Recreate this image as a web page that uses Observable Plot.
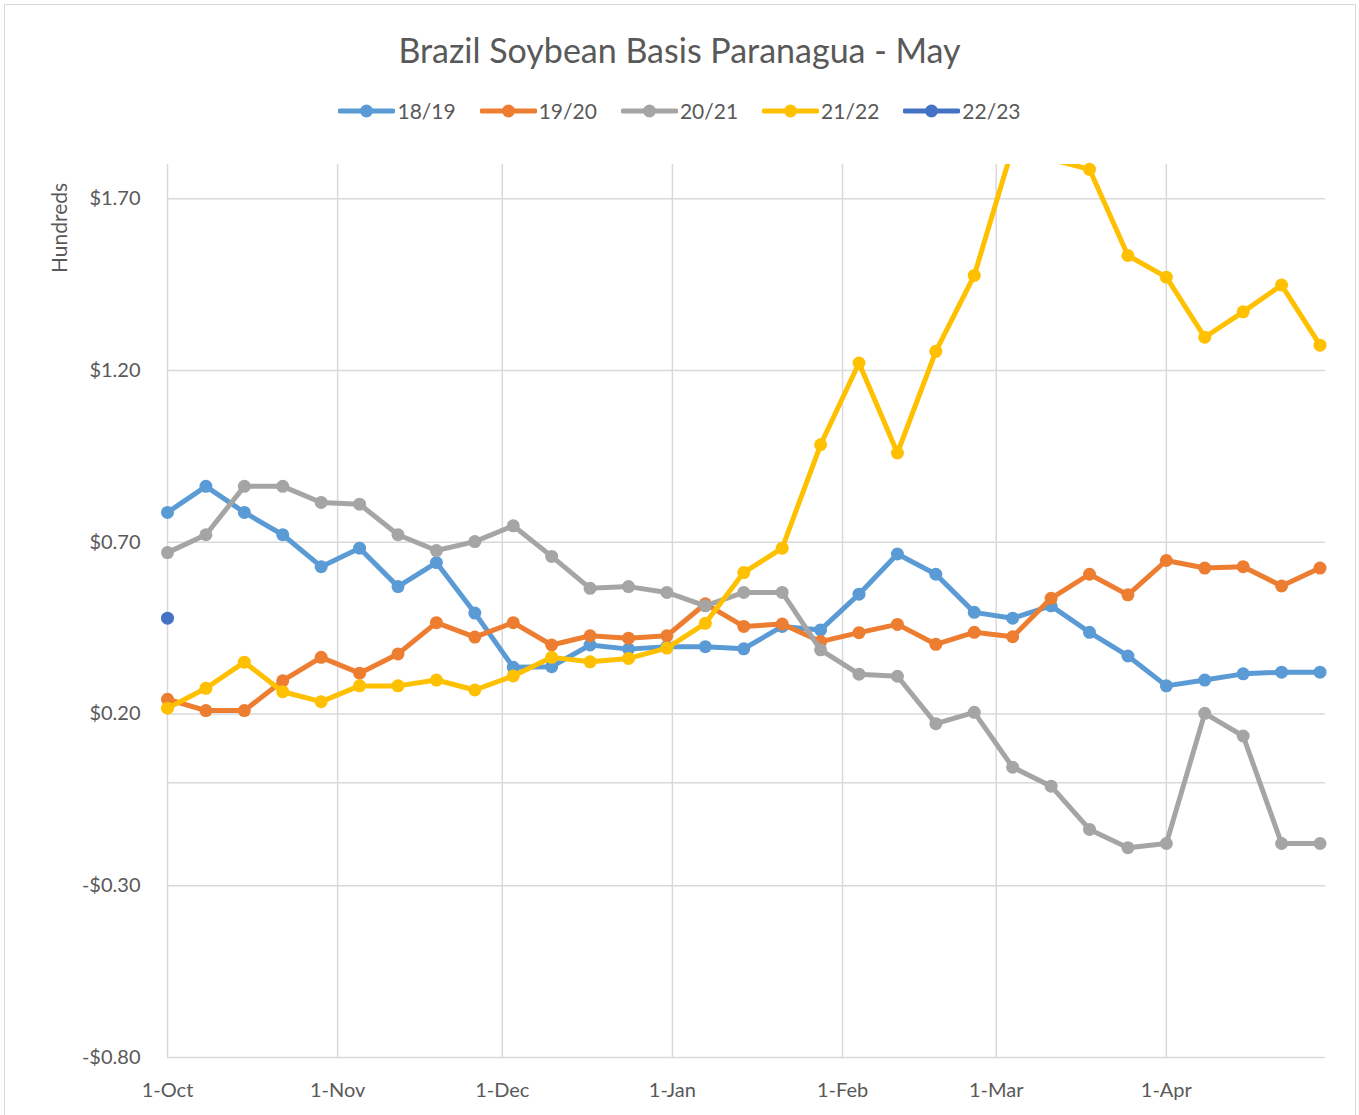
<!DOCTYPE html>
<html>
<head>
<meta charset="utf-8">
<script src="https://cdn.jsdelivr.net/npm/d3@7"></script>
<script src="https://cdn.jsdelivr.net/npm/@observablehq/plot@0.6"></script>
<style>
  body { margin: 0; background: #fff; font-family: Lato, "Open Sans", sans-serif; }
  #chart { position: relative; width: 1359px; height: 1115px; overflow: hidden; background: #fff; }
  #frame { position: absolute; left: 4px; top: 4px; width: 1352px; height: 1130px; border: 1px solid #D9D9D9; box-sizing: border-box; pointer-events: none; z-index: 3; }
  #title { position: absolute; left: 0; top: 28px; width: 1359px; text-align: center; font-size: 34px; color: #595959; line-height: 44px; }
  #legend { position: absolute; left: 0; top: 96px; width: 1359px; display: flex; justify-content: center; gap: 24px; font-size: 21px; color: #595959; line-height: 30px; }
  .item { display: flex; align-items: center; gap: 2px; }
  #ylab { position: absolute; left: 58px; top: 228px; transform: translate(-50%, -50%) rotate(-90deg); font-size: 21px; color: #595959; white-space: nowrap; z-index: 2; }
  #plot { position: absolute; left: 0; top: 140px; z-index: 1; }
</style>
</head>
<body>
<div id="chart">
  <div id="title">Brazil Soybean Basis Paranagua - May</div>
  <div id="legend"></div>
  <div id="plot"></div>
  <div id="ylab">Hundreds</div>
  <div id="frame"></div>
</div>
<script>
// Categories / x values (weekly observation dates)
const weeks = [
  "2021-10-01","2021-10-08","2021-10-15","2021-10-22","2021-10-29",
  "2021-11-05","2021-11-12","2021-11-19","2021-11-26",
  "2021-12-03","2021-12-10","2021-12-17","2021-12-24","2021-12-31",
  "2022-01-07","2022-01-14","2022-01-21","2022-01-28",
  "2022-02-04","2022-02-11","2022-02-18","2022-02-25",
  "2022-03-04","2022-03-11","2022-03-18","2022-03-25",
  "2022-04-01","2022-04-08","2022-04-15","2022-04-22","2022-04-29"
];
const seasons = ["18/19", "19/20", "20/21", "21/22", "22/23"];
const colors = ["#5B9BD5", "#ED7D31", "#A5A5A5", "#FFC000", "#4472C4"];

// Series values
const s1819 = [0.787,0.863,0.787,0.722,0.629,0.683,0.571,0.641,0.494,0.336,0.338,0.401,0.389,0.396,0.396,0.390,0.455,0.445,0.549,0.666,0.607,0.496,0.479,0.515,0.438,0.369,0.282,0.299,0.317,0.322,0.322];
const s1920 = [0.243,0.210,0.210,0.297,0.365,0.319,0.375,0.466,0.424,0.466,0.401,0.428,0.421,0.428,0.521,0.455,0.462,0.411,0.437,0.461,0.403,0.438,0.425,0.537,0.607,0.547,0.647,0.625,0.629,0.573,0.625];
const s2021 = [0.670,0.722,0.863,0.863,0.816,0.811,0.722,0.676,0.702,0.748,0.659,0.566,0.571,0.554,0.515,0.554,0.554,0.387,0.316,0.310,0.172,0.205,0.045,-0.010,-0.136,-0.189,-0.177,0.202,0.136,-0.177,-0.177];
const s2122 = [0.217,0.275,0.351,0.265,0.236,0.282,0.282,0.299,0.270,0.311,0.365,0.352,0.362,0.392,0.464,0.612,0.683,0.984,1.222,0.960,1.256,1.477,1.850,1.815,1.786,1.535,1.472,1.297,1.371,1.449,1.274];
const s2223 = [0.479];

// Axis ticks
const monthTicks = ["2021-10-01","2021-11-01","2021-12-01","2022-01-01","2022-02-01","2022-03-01","2022-04-01"];
const yTicks = [-0.8, -0.3, 0.2, 0.7, 1.2, 1.7];
const yDomain = [-0.8, 1.8];

const seriesValues = [s1819, s1920, s2021, s2122, s2223];
const parse = d3.utcParse("%Y-%m-%d");
const tables = seriesValues.map((vals, i) =>
  vals.map((v, j) => ({ date: parse(weeks[j]), value: v, season: seasons[i] }))
);
const monthDates = monthTicks.map(parse);

const seriesMarks = [];
tables.forEach((t, i) => {
  const outside = t.some(d => d.value > yDomain[1] || d.value < yDomain[0]);
  seriesMarks.push(Plot.line(t, { x: "date", y: "value", stroke: colors[i], strokeWidth: 5, strokeLinejoin: "round", strokeLinecap: "round", clip: outside }));
  seriesMarks.push(Plot.dot(t.filter(d => d.value <= yDomain[1] && d.value >= yDomain[0]), { x: "date", y: "value", r: 6.5, fill: colors[i], stroke: "none" }));
});

const fmtMoney = d => (d < 0 ? "-" : "") + "$" + Math.abs(d).toFixed(2);

const chart = Plot.plot({
  width: 1359,
  height: 975,
  marginLeft: 167,
  marginRight: 34,
  marginTop: 24,
  marginBottom: 58,
  style: { fontFamily: "Lato, 'Open Sans', sans-serif", fontSize: "20px", color: "#595959", background: "white", overflow: "visible" },
  x: { type: "utc", domain: [parse("2021-10-01"), parse("2022-04-30")], ticks: monthDates, tickFormat: d3.utcFormat("%-d-%b"), tickSize: 0, tickPadding: 25, label: null },
  y: { domain: yDomain, ticks: yTicks, tickFormat: fmtMoney, tickSize: 0, tickPadding: 27, label: null },
  marks: [
    Plot.ruleX(monthDates, { stroke: "#D9D9D9", strokeWidth: 1.5 }),
    Plot.ruleY(yTicks, { stroke: "#D9D9D9", strokeWidth: 1.5 }),
    Plot.ruleY([0], { stroke: "#D9D9D9", strokeWidth: 1.5 }),
    ...seriesMarks
  ]
});
document.getElementById("plot").appendChild(chart);

// Legend
const legend = document.getElementById("legend");
seasons.forEach((s, i) => {
  const item = document.createElement("div");
  item.className = "item";
  item.innerHTML = `<svg width="57" height="14"><line x1="2" y1="7" x2="55" y2="7" stroke="${colors[i]}" stroke-width="5" stroke-linecap="round"/><circle cx="28.5" cy="7" r="6.5" fill="${colors[i]}"/></svg><span>${s}</span>`;
  legend.appendChild(item);
});
</script>
</body>
</html>
